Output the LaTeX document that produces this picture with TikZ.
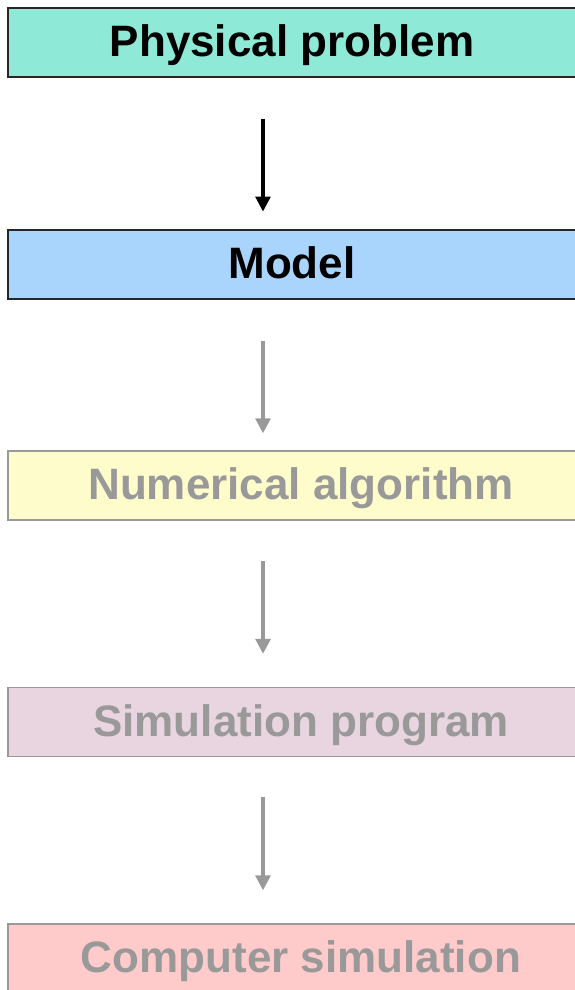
\documentclass[tikz,border=0pt]{standalone}
\usepackage{xcolor}
\usepackage{fontspec}
\setmainfont{Liberation Sans}
\usetikzlibrary{arrows.meta}

\definecolor{physfill}{RGB}{143,233,215}
\definecolor{modelfill}{RGB}{169,213,253}
\definecolor{algofill}{RGB}{255,252,204}
\definecolor{progfill}{RGB}{233,213,223}
\definecolor{simfill}{RGB}{255,202,202}
\definecolor{fadegray}{RGB}{153,153,153}

\begin{document}
\begin{tikzpicture}[x=1pt, y=-1pt,
    box/.style={draw=black!85, line width=1.5pt, rectangle, minimum height=69pt,
        font=\fontsize{44}{48}\selectfont\bfseries, text depth=3pt, text height=31.5pt},
    fadebox/.style={box, draw=fadegray, text=fadegray},
    arr/.style={-{Triangle[length=15pt, width=15pt]}, line width=3.2pt},
    fadearr/.style={arr, draw=fadegray, fill=fadegray}]
    \useasboundingbox (0,0) rectangle (575,990);
    \clip (0,0) rectangle (575,990);

    \node (phys) [box, fill=physfill, minimum width=568pt] at (292,42.5) {Physical problem};
    \node (model) [box, fill=modelfill, minimum width=568pt] at (292,264.25) {Model};
    \node (algo) [fadebox, fill=algofill, minimum width=586pt] at (301,485.5) {Numerical algorithm};
    \node (prog) [fadebox, fill=progfill, minimum width=586pt] at (301,722) {Simulation program};
    \node (sim) [fadebox, fill=simfill, minimum width=586pt] at (301,958.5) {Computer simulation};

    \coordinate (axis) at (263,0);

    \draw[arr, shorten <=41pt, shorten >=17.5pt] (phys.south -| axis) -- (model.north -| axis);
    \draw[fadearr, shorten <=41pt, shorten >=17pt] (model.south -| axis) -- (algo.north -| axis);
    \draw[fadearr, shorten <=40pt, shorten >=33pt] (algo.south -| axis) -- (prog.north -| axis);
    \draw[fadearr, shorten <=40pt, shorten >=33pt] (prog.south -| axis) -- (sim.north -| axis);
\end{tikzpicture}
\end{document}
